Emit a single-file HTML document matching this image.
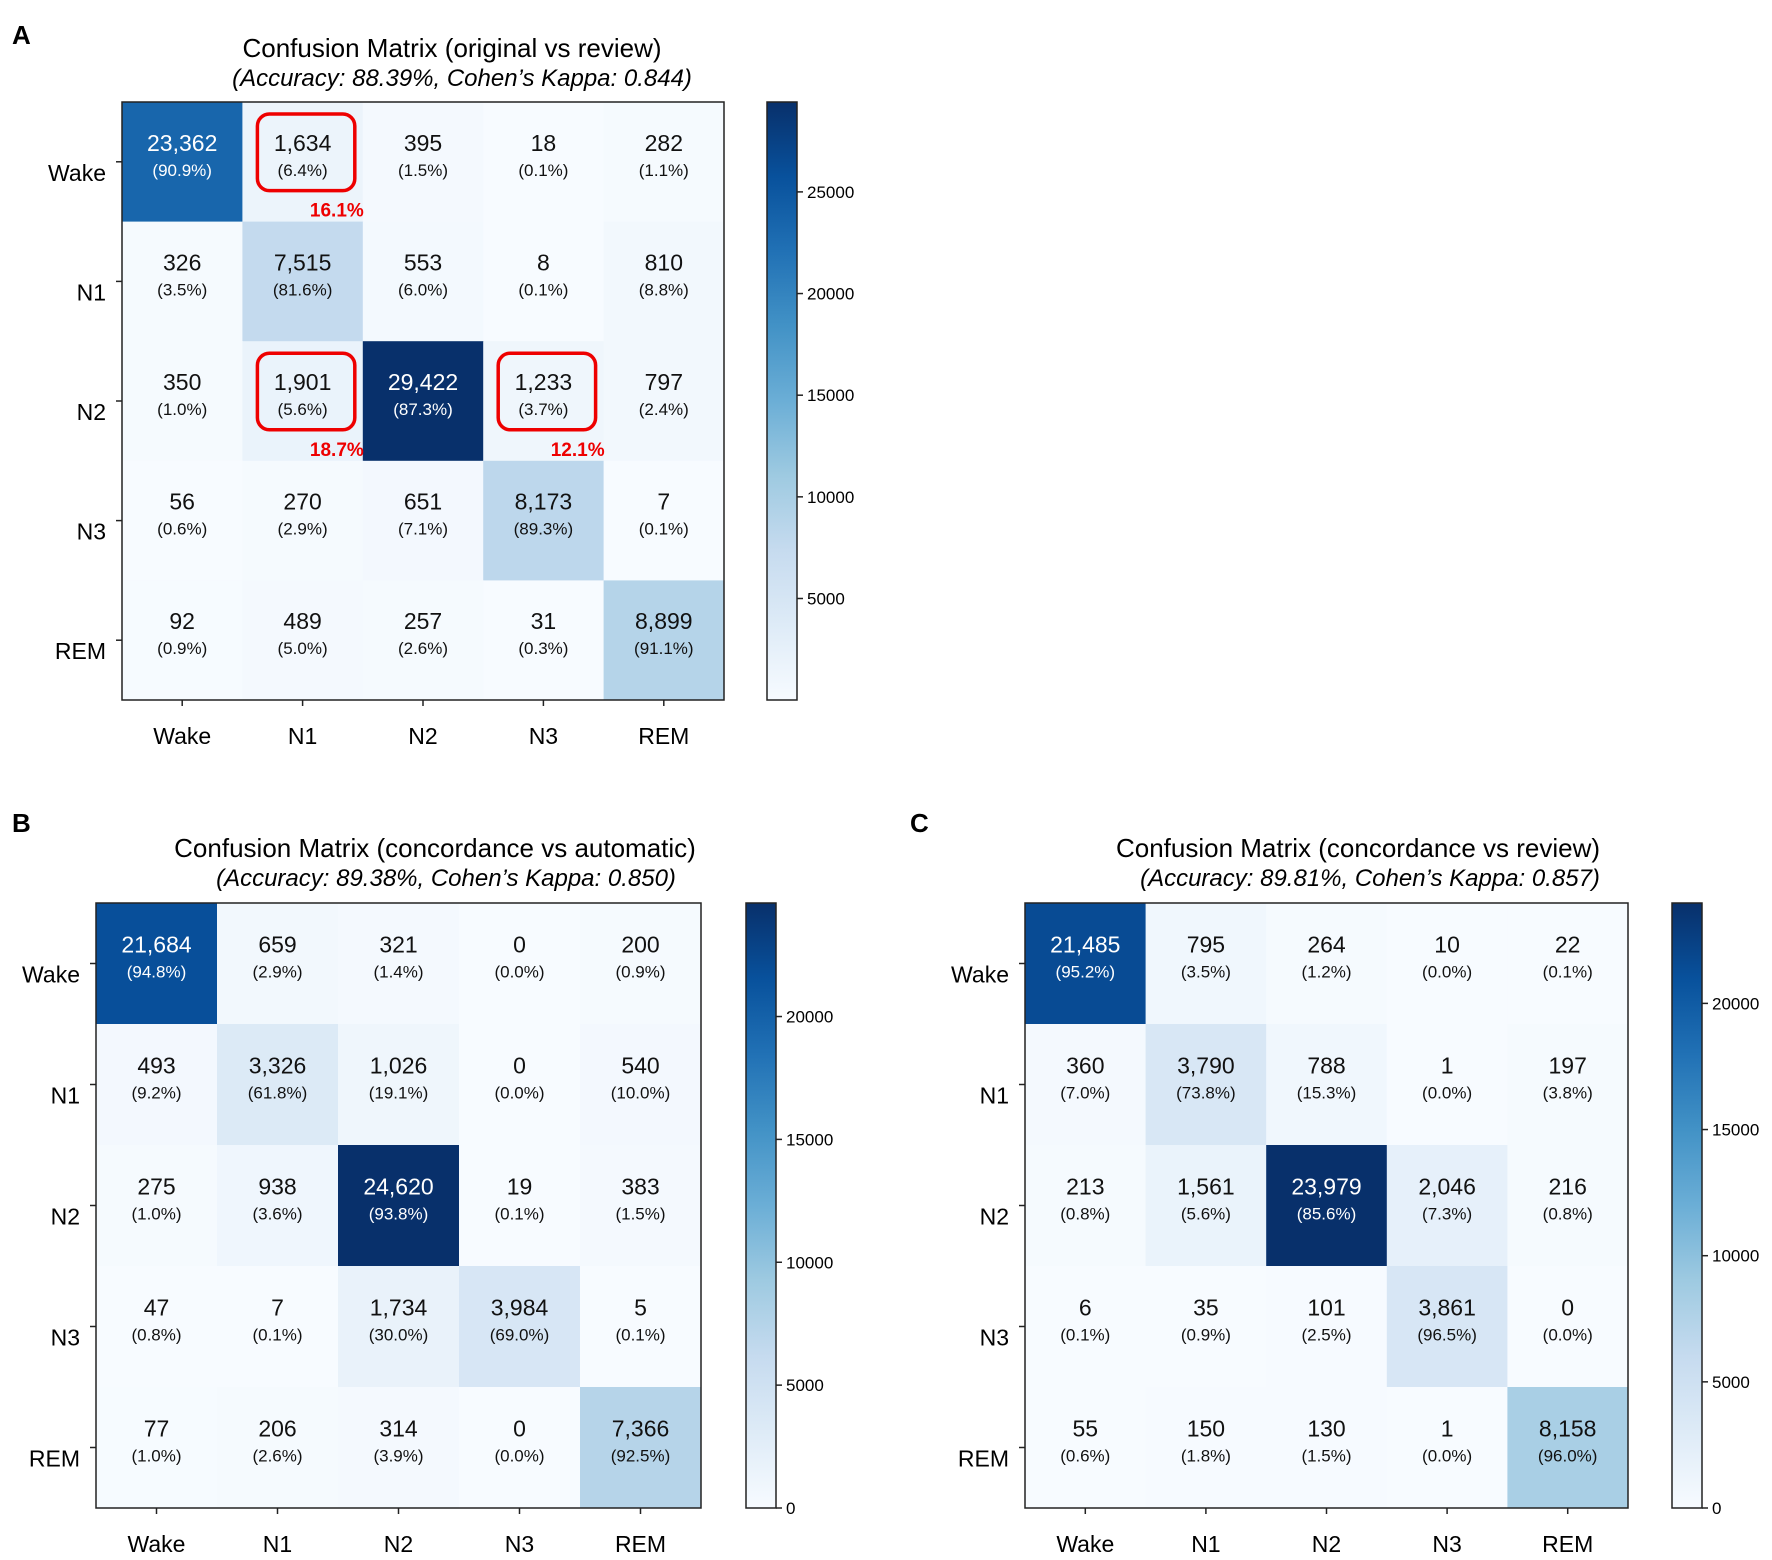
<!DOCTYPE html>
<html><head><meta charset="utf-8"><style>
html,body{margin:0;padding:0;background:#fff;}
svg text{font-family:"Liberation Sans",sans-serif;}
</style></head><body>
<svg id="fig" width="1772" height="1555" viewBox="0 0 1772 1555" xmlns="http://www.w3.org/2000/svg"></svg>
<script>
const labels = ["Wake","N1","N2","N3","REM"];
const countsA = [[23362,1634,395,18,282],[326,7515,553,8,810],[350,1901,29422,1233,797],[56,270,651,8173,7],[92,489,257,31,8899]];
const pctsA = [[90.9,6.4,1.5,0.1,1.1],[3.5,81.6,6.0,0.1,8.8],[1.0,5.6,87.3,3.7,2.4],[0.6,2.9,7.1,89.3,0.1],[0.9,5.0,2.6,0.3,91.1]];
const countsB = [[21684,659,321,0,200],[493,3326,1026,0,540],[275,938,24620,19,383],[47,7,1734,3984,5],[77,206,314,0,7366]];
const pctsB = [[94.8,2.9,1.4,0.0,0.9],[9.2,61.8,19.1,0.0,10.0],[1.0,3.6,93.8,0.1,1.5],[0.8,0.1,30.0,69.0,0.1],[1.0,2.6,3.9,0.0,92.5]];
const countsC = [[21485,795,264,10,22],[360,3790,788,1,197],[213,1561,23979,2046,216],[6,35,101,3861,0],[55,150,130,1,8158]];
const pctsC = [[95.2,3.5,1.2,0.0,0.1],[7.0,73.8,15.3,0.0,3.8],[0.8,5.6,85.6,7.3,0.8],[0.1,0.9,2.5,96.5,0.0],[0.6,1.8,1.5,0.0,96.0]];
const ticksA = [5000,10000,15000,20000,25000];
const ticksB = [0,5000,10000,15000,20000];
const ticksC = [0,5000,10000,15000,20000];
const highlightsA = [[0,1,"16.1%"],[2,1,"18.7%"],[2,3,"12.1%"]];

const NS="http://www.w3.org/2000/svg";
const svg=document.getElementById('fig');
function mk(tag,attrs,parent){const e=document.createElementNS(NS,tag);for(const k in attrs)e.setAttribute(k,attrs[k]);(parent||svg).appendChild(e);return e;}
const stops=["#f7fbff","#deebf7","#c6dbef","#9ecae1","#6baed6","#4292c6","#2171b5","#08519c","#08306b"];
function hex(h){return [parseInt(h.slice(1,3),16),parseInt(h.slice(3,5),16),parseInt(h.slice(5,7),16)];}
function blues(t){t=Math.max(0,Math.min(1,t));const p=t*8,i=Math.min(7,Math.floor(p)),f=p-i;const a=hex(stops[i]),b=hex(stops[i+1]);return 'rgb('+a.map((v,k)=>Math.round(v+(b[k]-v)*f)).join(',')+')';}
function fmt(n){return n.toLocaleString('en-US');}

function panel(P){
  const g=mk('g',{});
  
  
  const cw=(P.x1-P.x0)/5,ch=(P.y1-P.y0)/5;
  let mx=-Infinity,mn=Infinity;P.counts.forEach(r=>r.forEach(v=>{mx=Math.max(mx,v);mn=Math.min(mn,v);}));
  const vmin=P.vmin!==undefined?P.vmin:mn;
  const xs=j=>P.x0+j*cw, ys=i=>P.y0+i*ch;
  const t=mk('text',{x:P.lx,y:P.ly,'font-size':26,'font-weight':'bold'},g);t.textContent=P.letter;
  
  const t1=mk('text',{x:P.tx,y:P.ty,'font-size':26,'text-anchor':'middle'},g);t1.textContent=P.title;
  
  const t2=mk('text',{x:P.stx,y:P.ty+29,'font-size':24,'font-style':'italic','text-anchor':'middle'},g);t2.textContent=P.sub;
  
  for(let i=0;i<5;i++)for(let j=0;j<5;j++){
    const v=P.counts[i][j];
    const r=mk('rect',{x:xs(j),y:ys(i),width:cw+0.5,height:ch+0.5,fill:blues((v-vmin)/(mx-vmin))},g);
    
    
    const col=v>mx/2?'#fff':'#111';
    const a=mk('text',{x:xs(j)+cw/2,y:ys(i)+ch/2-11,'font-size':23,'text-anchor':'middle',fill:col},g);a.textContent=fmt(v);
    
    const b=mk('text',{x:xs(j)+cw/2,y:ys(i)+ch/2+14,'font-size':17,'text-anchor':'middle',fill:col},g);b.textContent='('+P.pcts[i][j].toFixed(1)+'%)';
    
  }
  (P.hl||[]).forEach(h=>{
    const [i,j,s]=h;
    const r=mk('rect',{x:xs(j)+15,y:ys(i)+12,width:cw-23,height:ch-43,rx:12,fill:'none',stroke:'#ee0000','stroke-width':3.5},g);
    
    const tt=mk('text',{x:xs(j)+cw+1,y:ys(i)+ch-5,'font-size':19,'font-weight':'bold','text-anchor':'end',fill:'#ee0000'},g);tt.textContent=s;
    
  });
  const fr=mk('rect',{x:P.x0,y:P.y0,width:P.x1-P.x0,height:P.y1-P.y0,fill:'none',stroke:'#222','stroke-width':1.5},g);
  
  for(let i=0;i<5;i++){
    const yc=ys(i)+ch/2;
    mk('line',{x1:P.x0-6,x2:P.x0,y1:yc,y2:yc,stroke:'#222','stroke-width':1.5},g);
    const l=mk('text',{x:P.x0-16,y:yc+19,'font-size':23,'text-anchor':'end'},g);l.textContent=labels[i];
    
    const xc=xs(i)+cw/2;
    mk('line',{x1:xc,x2:xc,y1:P.y1,y2:P.y1+6,stroke:'#222','stroke-width':1.5},g);
    const c=mk('text',{x:xc,y:P.y1+44,'font-size':23,'text-anchor':'middle'},g);c.textContent=labels[i];
    
  }
  const id='grad'+P.letter;
  const defs=mk('defs',{},g);const lg=mk('linearGradient',{id:id,x1:0,y1:1,x2:0,y2:0},defs);
  for(let k=0;k<=8;k++)mk('stop',{offset:k/8,'stop-color':stops[k]},lg);
  const cb=mk('rect',{x:P.cx,y:P.y0,width:30,height:P.y1-P.y0,fill:'url(#'+id+')',stroke:'#222','stroke-width':1.5},g);
  
  const cy=v=>P.y1-(v-vmin)/(mx-vmin)*(P.y1-P.y0);
  P.ticks.forEach(v=>{
    const y=cy(v);
    mk('line',{x1:P.cx+30,x2:P.cx+36,y1:y,y2:y,stroke:'#222','stroke-width':1.5},g);
    const tl=mk('text',{x:P.cx+40,y:y+6,'font-size':17},g);tl.textContent=String(v);
    
  });
}
panel({name:'panel-a',letter:'A',lx:12,ly:44,title:'Confusion Matrix (original vs review)',sub:'(Accuracy: 88.39%, Cohen’s Kappa: 0.844)',tx:452,stx:462,ty:57,x0:122,x1:724,y0:102,y1:700,cx:767,counts:countsA,pcts:pctsA,ticks:ticksA,hl:highlightsA});
panel({name:'panel-b',letter:'B',lx:12,ly:832,title:'Confusion Matrix (concordance vs automatic)',sub:'(Accuracy: 89.38%, Cohen’s Kappa: 0.850)',tx:435,stx:446,ty:857,x0:96,x1:701,y0:903,y1:1508,cx:746,vmin:0,counts:countsB,pcts:pctsB,ticks:ticksB});
panel({name:'panel-c',letter:'C',lx:910,ly:832,title:'Confusion Matrix (concordance vs review)',sub:'(Accuracy: 89.81%, Cohen’s Kappa: 0.857)',tx:1358,stx:1370,ty:857,x0:1025,x1:1628,y0:903,y1:1508,cx:1672,vmin:0,counts:countsC,pcts:pctsC,ticks:ticksC});
</script>
</body></html>
